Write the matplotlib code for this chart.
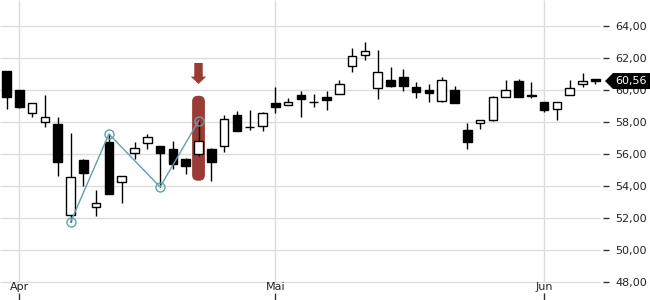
import matplotlib
matplotlib.use("Agg")
import matplotlib.pyplot as plt
from matplotlib.patches import FancyBboxPatch, Polygon

# daily candles, end of March to mid June
opens = [61.16, 59.97, 58.57, 58.01, 57.90, 52.20, 55.60, 52.68, 56.72, 54.26,
         56.07, 56.70, 56.53, 56.32, 55.66, 55.99, 56.32, 56.49, 58.41, 57.70,
         57.74, 59.20, 59.07, 59.66, 59.26, 59.59, 59.76, 61.48, 62.17, 60.10,
         60.63, 60.79, 60.17, 60.00, 59.33, 60.00, 57.50, 57.92, 58.12, 59.54,
         60.56, 59.71, 59.25, 58.79, 59.71, 60.35, 60.67]
highs = [61.20, 60.00, 59.20, 59.66, 58.34, 57.30, 55.70, 53.78, 57.25, 54.61,
         56.72, 57.22, 56.53, 56.84, 55.72, 58.06, 56.39, 58.41, 58.66, 58.72,
         58.60, 60.18, 59.49, 59.91, 59.72, 59.91, 60.61, 62.60, 63.00, 62.50,
         61.42, 61.29, 60.50, 60.38, 60.81, 60.25, 57.94, 58.10, 59.65, 60.63,
         60.69, 60.50, 59.25, 59.25, 60.63, 61.04, 60.67]
lows = [58.80, 58.86, 58.30, 57.68, 54.61, 51.73, 53.97, 52.11, 53.51, 52.93,
        55.68, 56.30, 53.94, 55.05, 54.76, 55.90, 54.30, 56.11, 57.43, 57.47,
        57.43, 58.55, 59.07, 58.30, 58.93, 58.72, 59.76, 61.15, 61.90, 59.42,
        60.21, 59.96, 59.52, 59.27, 59.23, 59.21, 56.29, 57.58, 58.06, 59.54,
        59.58, 59.52, 58.65, 58.13, 59.71, 60.21, 60.40]
closes = [59.55, 58.93, 59.20, 58.34, 55.49, 54.59, 54.80, 52.95, 53.51, 54.61,
          56.39, 57.07, 56.05, 55.36, 55.24, 56.84, 55.49, 58.20, 57.43, 57.70,
          58.57, 58.93, 59.26, 59.43, 59.26, 59.36, 60.40, 62.10, 62.42, 61.10,
          60.27, 60.27, 59.90, 59.83, 60.60, 59.21, 56.77, 58.10, 59.56, 59.98,
          59.58, 59.62, 58.75, 59.25, 60.10, 60.54, 60.56]

month_pos = [1, 21, 42]
month_labels = ["Apr", "Mai", "Jun"]

swing_idx = [5, 8, 12, 15]
swing_val = [51.73, 57.25, 53.94, 58.06]

signal_idx = 15
y_ticks = [48, 50, 52, 54, 56, 58, 60, 62, 64]

grid_c = "#dcdcdc"
red = "#9a3b36"
teal = "#5fa2a7"

fig = plt.figure(figsize=(6.5, 3), dpi=100)
ax = fig.add_axes([0, 0, 603 / 650, 1])
x0, x1 = -0.508, 46.6
ax.set_xlim(x0, x1)
ax.set_ylim(46.875, 65.625)
for s in ax.spines.values():
    s.set_visible(False)

# grid
ax.hlines(y_ticks, x0, 46.37, color=grid_c, lw=1, zorder=0)
ax.vlines(month_pos, 48, 65.625, color=grid_c, lw=1, zorder=0)

# signal highlight + arrow
hl = FancyBboxPatch((signal_idx - 0.5, 54.33), 1.0, 59.64 - 54.33,
                    boxstyle="round,pad=0,rounding_size=0.45", mutation_aspect=0.8,
                    fc=red, ec="none", zorder=1)
ax.add_patch(hl)
sw, hw = 0.33, 0.6
ax.add_patch(Polygon([(signal_idx - sw, 61.69), (signal_idx + sw, 61.69),
                      (signal_idx + sw, 60.84), (signal_idx + hw, 60.84),
                      (signal_idx, 60.375), (signal_idx - hw, 60.84),
                      (signal_idx - sw, 60.84)], closed=True, fc=red, ec="none", zorder=1))

# candles
xs = list(range(len(opens)))
ax.vlines(xs, lows, highs, color="black", lw=1, zorder=2)
bottoms = [min(o, c) for o, c in zip(opens, closes)]
heights = [abs(c - o) for o, c in zip(opens, closes)]
fills = ["white" if c >= o else "black" for o, c in zip(opens, closes)]
ax.bar(xs, heights, bottom=bottoms, width=0.68, color=fills, edgecolor="black",
       linewidth=1, zorder=3)

# zigzag
ax.plot(swing_idx, swing_val, color=teal, lw=1, zorder=4)
ax.plot(swing_idx, swing_val, ls="none", marker="o", ms=6.5, mfc="none",
        mec=teal, mew=1, zorder=5)

# axes ticks
ax.yaxis.tick_right()
ax.set_yticks(y_ticks)
ax.set_yticklabels([f"{v:.2f}".replace(".", ",") for v in y_ticks])
ax.tick_params(axis="y", length=4, width=1, color="#333333", pad=5,
               labelsize=8, labelcolor="#222222")
ax.set_xticks(month_pos)
ax.set_xticklabels([])
ax.tick_params(axis="x", direction="in", length=5, width=1, color="#333333")
for p, lab in zip(month_pos, month_labels):
    ax.text(p, 47.66, lab, ha="center", va="center", fontsize=8, color="#222222")

# last price tag
last = closes[-1]
yc = ax.transData.transform((0, last))[1]
W, H = 650.0, 300.0
pts = [(605, yc), (613, yc + 8), (650, yc + 8), (650, yc - 8), (613, yc - 8)]
tag = Polygon([(px / W, py / H) for px, py in pts], closed=True,
              transform=fig.transFigure, fc="black", ec="none")
fig.add_artist(tag)
fig.text(615 / W, yc / H, f"{last:.2f}".replace(".", ","), color="white",
         fontsize=8, va="center", ha="left")

fig.savefig("out.png", dpi=100)
